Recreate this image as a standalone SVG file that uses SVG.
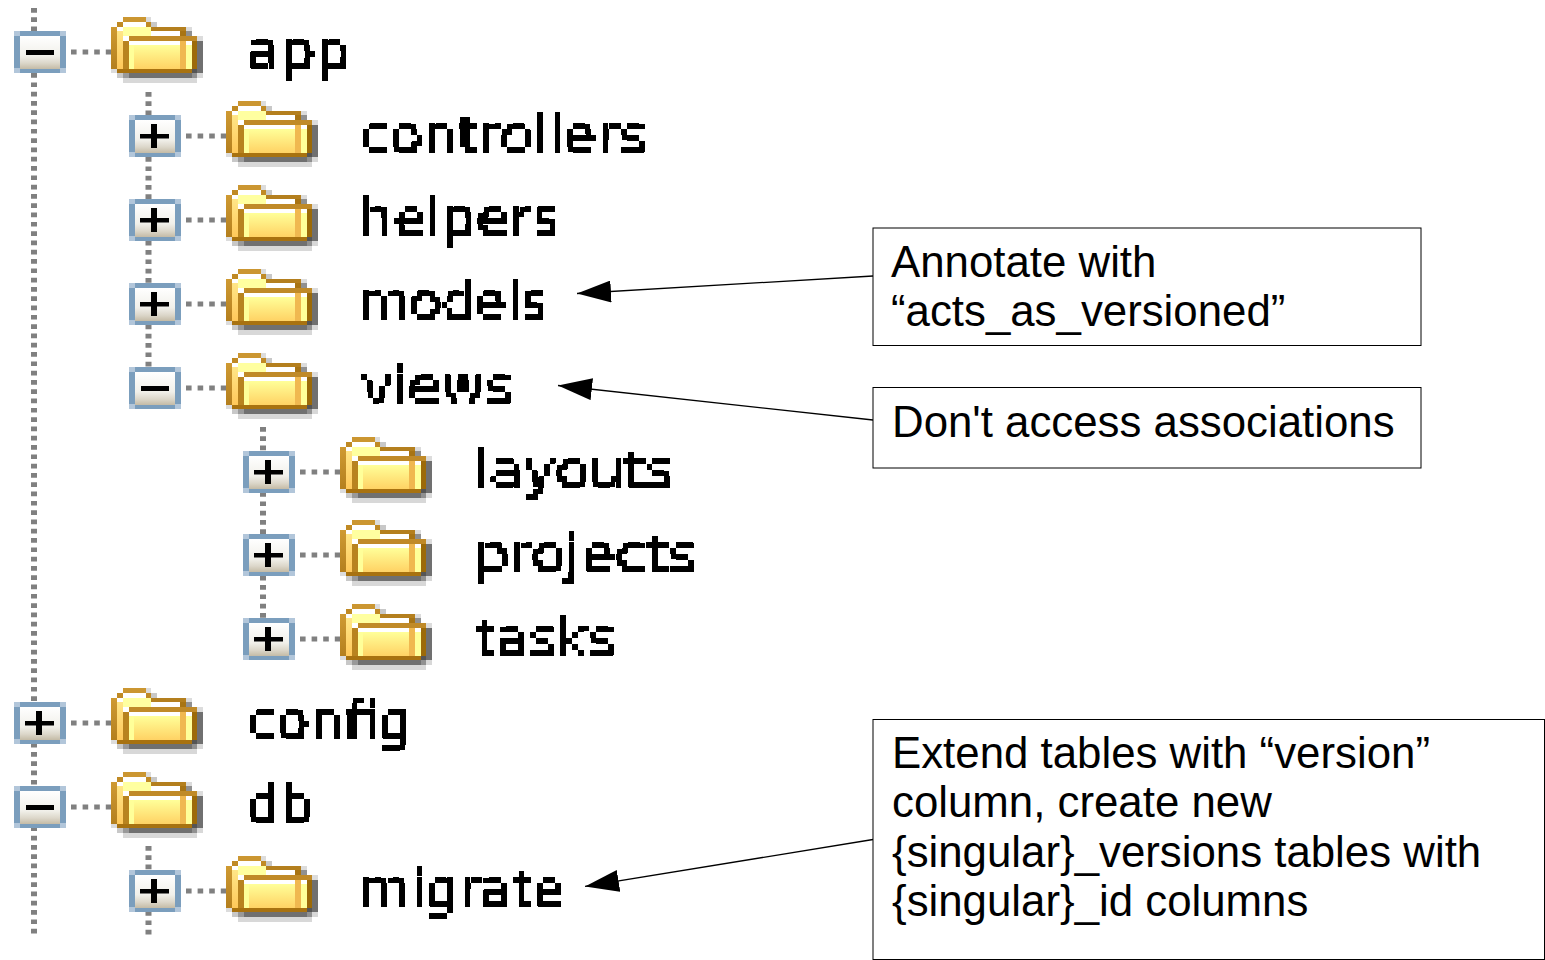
<svg xmlns="http://www.w3.org/2000/svg" xmlns:xlink="http://www.w3.org/1999/xlink" width="1545" height="960" viewBox="0 0 1545 960">
<style>
.lbl{font-family:"DejaVu Sans",sans-serif;font-size:51px;fill:#000;stroke:#000;stroke-width:.2;filter:url(#px)}
.note{font-family:"Liberation Sans",Arial,sans-serif;font-size:43.8px;fill:#000}
.box{fill:#fff;stroke:#000;stroke-width:1}
.vd{fill:none;stroke:#808080;stroke-width:6;stroke-dasharray:4.7 4.6}
.hd{fill:none;stroke:#808080;stroke-width:5;stroke-dasharray:5.6 6}
.arr{fill:none;stroke:#000;stroke-width:1.3;marker-end:url(#head)}
</style>
<defs>
<filter id="px" filterUnits="userSpaceOnUse" x="-12" y="-60" width="336" height="90" color-interpolation-filters="sRGB">
<feFlood x="2" y="-4" width="2" height="2" flood-color="#000"/>
<feComposite x="0" y="-6" width="6" height="6"/>
<feTile x="-12" y="-60" width="336" height="90" result="grid"/>
<feComposite in="SourceGraphic" in2="grid" operator="in"/>
<feMorphology operator="dilate" radius="2"/>
<feComponentTransfer><feFuncA type="discrete" tableValues="0 0 1 1"/></feComponentTransfer>
</filter>
<marker id="head" markerUnits="userSpaceOnUse" markerWidth="34" markerHeight="22" viewBox="0 0 34 22" refX="34" refY="11" orient="auto"><path d="M0,0L34,11L0,22Z" fill="#000"/></marker>
<linearGradient id="btn" x1="0" y1="0" x2="0" y2="1"><stop offset="0" stop-color="#fff"/><stop offset=".6" stop-color="#f1f0ea"/><stop offset=".82" stop-color="#dcd7ca"/><stop offset="1" stop-color="#c4bba6"/></linearGradient>
<linearGradient id="yel" x1="0" y1="0" x2="0" y2="1"><stop offset="0" stop-color="#ffff99"/><stop offset="1" stop-color="#ffd264"/></linearGradient>
<linearGradient id="edge" x1="0" y1="0" x2="0" y2="1"><stop offset="0" stop-color="#cf9a32"/><stop offset="1" stop-color="#b47f1e"/></linearGradient>
<linearGradient id="lft" x1="0" y1="0" x2="0" y2="1"><stop offset="0" stop-color="#ffe98c"/><stop offset="1" stop-color="#ffc85a"/></linearGradient>
<g id="back" transform="scale(.33333)">
<rect width="156" height="126" fill="#7b9ebd"/>
<rect width="18" height="15" fill="#b2c6da"/><rect x="138" width="18" height="15" fill="#b2c6da"/><rect y="111" width="18" height="15" fill="#b2c6da"/><rect x="138" y="111" width="18" height="15" fill="#b2c6da"/>
<rect x="18" y="15" width="120" height="99" fill="url(#btn)"/>
</g>
<g id="minus"><use href="#back"/><rect x="12" y="19" width="28" height="5" fill="#000"/></g>
<g id="plus"><use href="#back"/><rect x="11" y="19" width="29" height="4.5" fill="#000"/><rect x="22" y="9" width="6" height="24" fill="#000"/></g>
<g id="folder" transform="scale(.33333) translate(-333,-51)">
<rect x="369" y="219" width="222" height="15" fill="#707070"/><rect x="369" y="234" width="222" height="15" fill="#d8d8d8"/>
<rect x="369" y="219" width="18" height="15" fill="#999"/><rect x="576" y="219" width="15" height="15" fill="#909090"/><rect x="591" y="219" width="18" height="15" fill="#d8d8d8"/>
<rect x="351" y="219" width="18" height="15" fill="#c8c8c8"/><rect x="591" y="123" width="18" height="96" fill="#707070"/>
<rect x="591" y="108" width="18" height="15" fill="#dcdcdc"/><rect x="558" y="81" width="18" height="12" fill="#dcdcdc"/><rect x="558" y="93" width="18" height="15" fill="#909090"/>
<rect x="438" y="51" width="15" height="15" fill="#dcdcdc"/><rect x="453" y="66" width="18" height="15" fill="#c8c8c8"/>
<rect x="369" y="51" width="69" height="15" fill="#cb9631"/>
<rect x="351" y="66" width="18" height="15" fill="#c08a24"/><rect x="438" y="66" width="15" height="15" fill="#c08a24"/>
<rect x="369" y="66" width="69" height="15" fill="#fff"/>
<rect x="333" y="81" width="18" height="126" fill="url(#edge)"/>
<rect x="351" y="81" width="207" height="126" fill="url(#lft)"/>
<rect x="351" y="81" width="18" height="12" fill="#fff"/><rect x="369" y="81" width="84" height="27" fill="#ffffa0"/>
<rect x="453" y="81" width="105" height="12" fill="#b47f1e"/><rect x="453" y="93" width="87" height="15" fill="#fff"/><rect x="540" y="93" width="18" height="15" fill="#a87414"/>
<rect x="369" y="108" width="222" height="111" fill="#fff"/>
<rect x="387" y="108" width="204" height="15" fill="#c08a28"/>
<rect x="369" y="123" width="18" height="84" fill="#b8831f"/>
<rect x="402" y="135" width="138" height="72" fill="url(#yel)"/>
<rect x="387" y="135" width="15" height="72" fill="#ffff99"/>
<rect x="540" y="123" width="18" height="84" fill="#f0b850"/>
<rect x="558" y="135" width="18" height="72" fill="#ffff99"/>
<rect x="576" y="123" width="15" height="84" fill="#9c6a08"/>
<rect x="351" y="207" width="225" height="12" fill="#a87210"/>
<rect x="333" y="207" width="18" height="12" fill="#dcdcdc"/>
<rect x="576" y="207" width="15" height="12" fill="#555"/>
</g>
</defs>
<rect width="1545" height="960" fill="#fff"/>
<g id="connectors">
<path class="vd" d="M34 8V935"/>
<path class="vd" d="M148.500 92V372"/>
<path class="vd" d="M148.500 846V935"/>
<path class="vd" d="M263 427V625"/>
<path class="hd" d="M71 52H111M186 136H226M186 220H226M186 304H226M186 388H226M300 472H340M300 555H340M300 639H340M71 723H111M71 807H111M186 891H226"/>
<path class="arr" d="M873 276L577 293.500"/>
<path class="arr" d="M873 420L558 385.500"/>
<path class="arr" d="M873 839.500L585 886.400"/>
</g>
<g id="node-app"><use href="#minus" x="14" y="31"/><use href="#folder" x="111" y="17"/><g transform="translate(250,69)"><text class="lbl" x="-3" y="0" textLength="104" lengthAdjust="spacingAndGlyphs">app</text></g></g>
<g id="node-controllers"><use href="#plus" x="129" y="115"/><use href="#folder" x="226" y="101"/><g transform="translate(363,153)"><text class="lbl" x="-3" y="0" textLength="287" lengthAdjust="spacingAndGlyphs">controllers</text></g></g>
<g id="node-helpers"><use href="#plus" x="129" y="199"/><use href="#folder" x="226" y="185"/><g transform="translate(363,236)"><text class="lbl" x="-4" y="0" textLength="201" lengthAdjust="spacingAndGlyphs">helpers</text></g></g>
<g id="node-models"><use href="#plus" x="129" y="283"/><use href="#folder" x="226" y="269"/><g transform="translate(363,320)"><text class="lbl" x="-4" y="0" textLength="189" lengthAdjust="spacingAndGlyphs">models</text></g></g>
<g id="node-views"><use href="#minus" x="129" y="367"/><use href="#folder" x="226" y="353"/><g transform="translate(361,404)"><text class="lbl" x="0" y="0" textLength="152" lengthAdjust="spacingAndGlyphs">views</text></g></g>
<g id="node-layouts"><use href="#plus" x="243" y="451"/><use href="#folder" x="340" y="437"/><g transform="translate(478,488)"><text class="lbl" x="-4" y="0" textLength="200" lengthAdjust="spacingAndGlyphs">layouts</text></g></g>
<g id="node-projects"><use href="#plus" x="243" y="534"/><use href="#folder" x="340" y="520"/><g transform="translate(478,572)"><text class="lbl" x="-4" y="0" textLength="223" lengthAdjust="spacingAndGlyphs">projects</text></g></g>
<g id="node-tasks"><use href="#plus" x="243" y="618"/><use href="#folder" x="340" y="604"/><g transform="translate(476,656)"><text class="lbl" x="-1" y="0" textLength="141" lengthAdjust="spacingAndGlyphs">tasks</text></g></g>
<g id="node-config"><use href="#plus" x="14" y="702"/><use href="#folder" x="111" y="688"/><g transform="translate(250,739)"><text class="lbl" x="-3" y="0" textLength="165" lengthAdjust="spacingAndGlyphs">config</text></g></g>
<g id="node-db"><use href="#minus" x="14" y="786"/><use href="#folder" x="111" y="772"/><g transform="translate(250,823)"><text class="lbl" x="-3" y="0" textLength="66" lengthAdjust="spacingAndGlyphs">db</text></g></g>
<g id="node-migrate"><use href="#plus" x="129" y="870"/><use href="#folder" x="226" y="856"/><g transform="translate(363,907)"><text class="lbl" x="-4" y="0" textLength="206" lengthAdjust="spacingAndGlyphs">migrate</text></g></g>
<g id="note-annotate"><rect class="box" x="873" y="228" width="548" height="117.500"/><text class="note" x="891" y="277">Annotate with</text><text class="note" x="891" y="326">“acts_as_versioned”</text></g>
<g id="note-associations"><rect class="box" x="873" y="387.500" width="548" height="80.500"/><text class="note" x="892" y="437">Don't access associations</text></g>
<g id="note-extend"><rect class="box" x="873" y="719.500" width="671.500" height="240"/><text class="note" x="892" y="768">Extend tables with “version”</text><text class="note" x="892" y="817">column, create new</text><text class="note" x="892" y="867">{singular}_versions tables with</text><text class="note" x="892" y="916">{singular}_id columns</text></g>
</svg>
